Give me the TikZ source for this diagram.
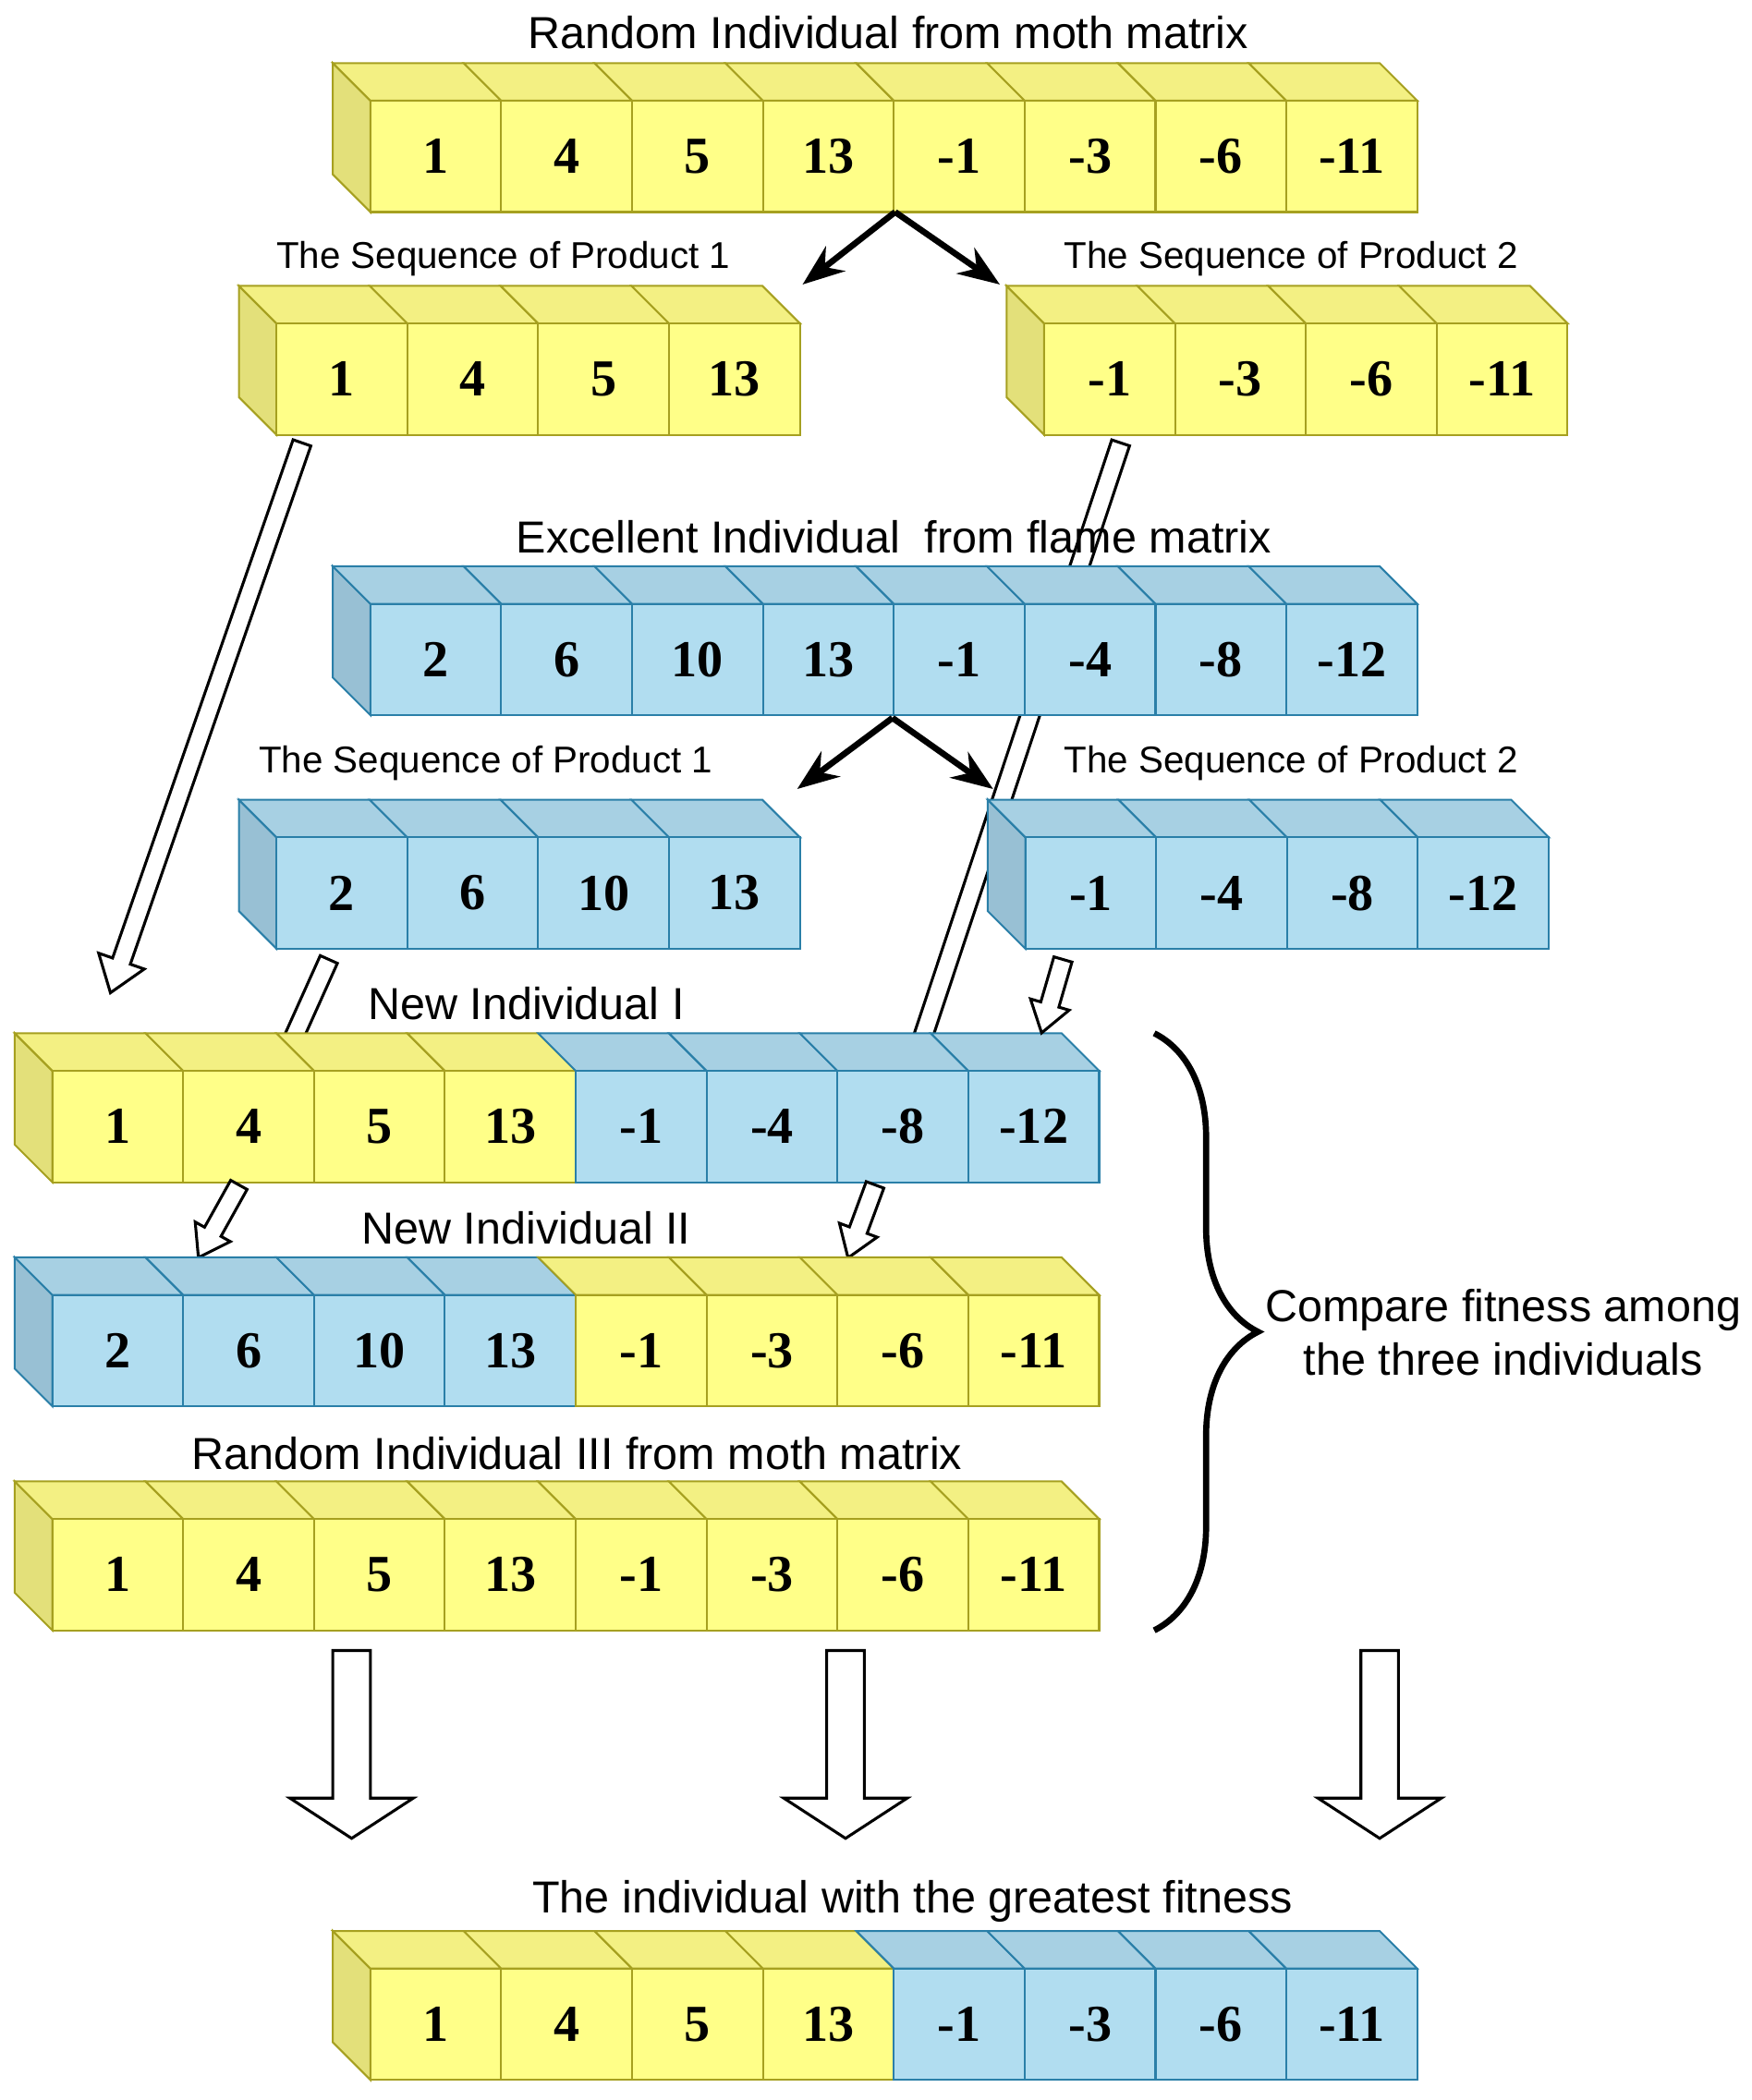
\documentclass[tikz,border=0pt]{standalone}
\usepackage{fontspec}
\setmainfont{Liberation Serif}
\newfontfamily\labelfont{Liberation Sans}
\usetikzlibrary{arrows.meta,decorations.pathreplacing}
\definecolor{Yfront}{HTML}{FFFF88}
\definecolor{Ytop}{HTML}{F3F083}
\definecolor{Yside}{HTML}{E3E07A}
\definecolor{Ystroke}{HTML}{A6A020}
\definecolor{Bfront}{HTML}{B1DDF0}
\definecolor{Btop}{HTML}{A7D0E3}
\definecolor{Bside}{HTML}{98C0D4}
\definecolor{Bstroke}{HTML}{2A7FA8}
\tikzset{>=Stealth,
  title/.style={font=\labelfont\fontsize{9.5}{11.5}\selectfont},
  subtitle/.style={font=\labelfont\fontsize{7.9}{9.5}\selectfont},
  num/.style={font=\bfseries\fontsize{11}{13}\selectfont},
  harrow/.style={draw=black, fill=white, line width=0.6pt},
  split/.style={->, line width=1.3pt}}
% #1 x, #2 y of front top-left, #3 list value/colour
\newcommand\cuberow[4]{%
  \foreach \v/\c [count=\i from 0] in {#3} {
    \pgfmathsetmacro\xx{#1+\i*97.5}
    \ifnum\i=0
      \draw[\c stroke, fill=\c side] (\xx,#2) -- ++(-28,28) -- ++(0,-83) -- ++(28,-28) -- cycle;
    \fi
    \draw[\c stroke, fill=\c top] (\xx,#2) -- ++(-28,28) -- ++(97.5,0) -- ++(28,-28) -- cycle;
    \draw[\c stroke, fill=\c front] (\xx,#2) rectangle ++(97.5,-83);
    \node[num] (#4\i) at (\xx+48.75,#2-41.5) {\v};
  }}
% #1 start, #2 angle, #3 length, #4 shaft, #5 head width, #6 head length
\newcommand\hollowarrow[6]{%
  \draw[harrow, shift={#1}, rotate=#2] (0,-#4) -- ({#3-#6},-#4) -- ({#3-#6},-#5)
    -- (#3,0) -- ({#3-#6},#5) -- ({#3-#6},#4) -- (0,#4) -- cycle;}
\begin{document}
\begin{tikzpicture}[x=0.01cm, y=0.01cm]
\useasboundingbox (0,0) rectangle (1305,-1565);

% long arrows behind the rows
\hollowarrow{(225,-330)}{250.8}{434}{7}{18}{25}
\hollowarrow{(835,-330)}{251.6}{500}{7}{18}{25}
\hollowarrow{(245,-715)}{245.8}{95}{7}{15}{22}

% moth individual
\node[title] (moth) at (662,-24) {Random Individual from moth matrix};
\cuberow{276}{-75}{1/Y,4/Y,5/Y,13/Y,-1/Y,-3/Y,-6/Y,-11/Y}{m}
\node[subtitle] (mp1) at (375,-193) {The Sequence of Product 1};
\cuberow{206}{-241}{1/Y,4/Y,5/Y,13/Y}{ma}
\node[subtitle] (mp2) at (962,-193) {The Sequence of Product 2};
\cuberow{778}{-241}{-1/Y,-3/Y,-6/Y,-11/Y}{mb}
\coordinate (msplit) at (667,-158);
\draw[split] (msplit) -- (598,-212);
\draw[split] (msplit) -- (745,-212);

% flame individual
\node[title] (flame) at (666,-400) {Excellent Individual\ \ from flame matrix};
\cuberow{276}{-450}{2/B,6/B,10/B,13/B,-1/B,-4/B,-8/B,-12/B}{f}
\node[subtitle] (fp1) at (362,-569) {The Sequence of Product 1};
\cuberow{206}{-624}{2/B,6/B,10/B,13/B}{fa}
\node[subtitle] (fp2) at (962,-569) {The Sequence of Product 2};
\cuberow{764}{-624}{-1/B,-4/B,-8/B,-12/B}{fb}
\coordinate (fsplit) at (665,-535);
\draw[split] (fsplit) -- (594,-588);
\draw[split] (fsplit) -- (740,-588);

% new individuals
\node[title] (new1) at (392,-748) {New Individual I};
\cuberow{39}{-798}{1/Y,4/Y,5/Y,13/Y,-1/B,-4/B,-8/B,-12/B}{n}
\hollowarrow{(792,-715)}{253.8}{57}{7}{15}{22}
\hollowarrow{(178,-883)}{240.9}{62}{7}{15}{22}
\hollowarrow{(652,-883)}{249.7}{58}{7}{15}{22}
\node[title] (new2) at (392,-915) {New Individual II};
\cuberow{39}{-965}{2/B,6/B,10/B,13/B,-1/Y,-3/Y,-6/Y,-11/Y}{o}
\node[title] (rand3) at (430,-1083) {Random Individual III from moth matrix};
\cuberow{39}{-1132}{1/Y,4/Y,5/Y,13/Y,-1/Y,-3/Y,-6/Y,-11/Y}{r}

% comparison
\coordinate (btop) at (860,-770);
\coordinate (bbot) at (860,-1215);
\draw[line width=1.3pt, decorate, decoration={brace, amplitude=22pt, aspect=0.5}] (btop) -- (bbot);
\node[title, align=center] (cmp) at (1120,-993) {Compare fitness among\\the three individuals};

\hollowarrow{(262,-1230)}{270}{140}{14}{46}{30}
\hollowarrow{(630,-1230)}{270}{140}{14}{46}{30}
\hollowarrow{(1028,-1230)}{270}{140}{14}{46}{30}

% best individual
\node[title] (best) at (680,-1417) {The individual with the greatest fitness};
\cuberow{276}{-1467}{1/Y,4/Y,5/Y,13/Y,-1/B,-3/B,-6/B,-11/B}{b}
\end{tikzpicture}
\end{document}
